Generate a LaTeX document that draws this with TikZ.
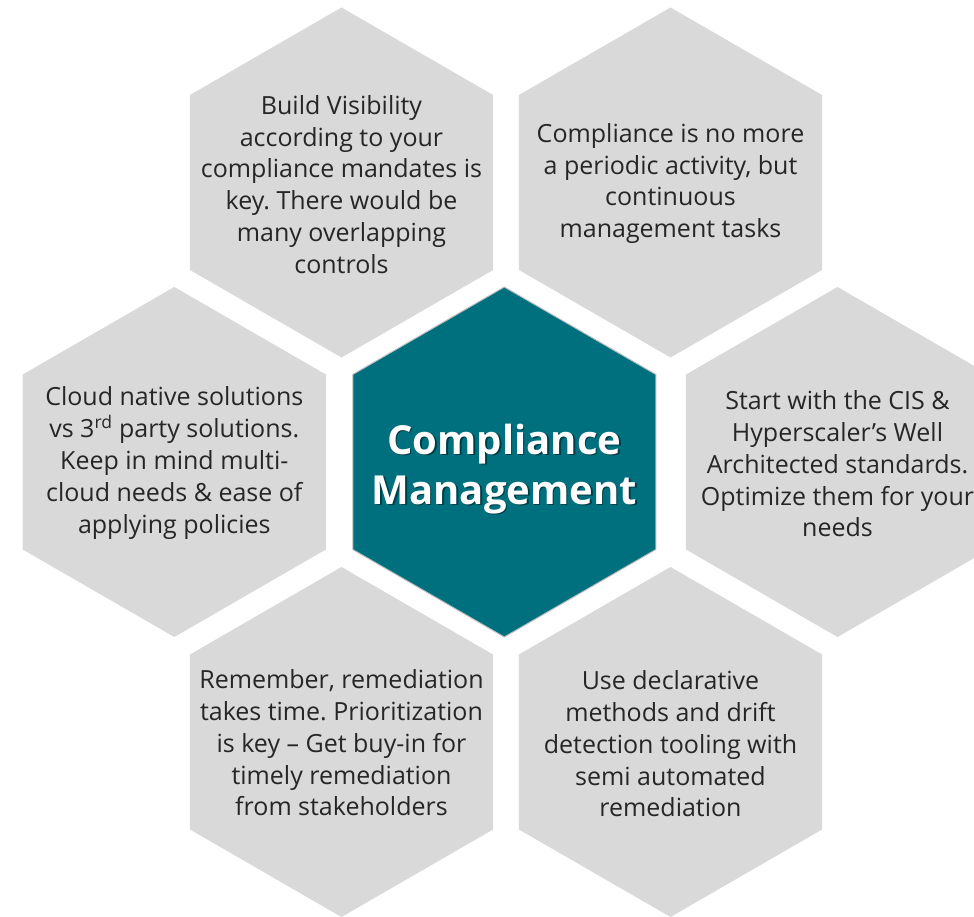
\documentclass[tikz,border=0pt]{standalone}
\usepackage{fontspec}
\setmainfont{Open Sans}
\usetikzlibrary{shapes.geometric}
\definecolor{hexgray}{HTML}{D9D9D9}
\definecolor{teal}{HTML}{00707F}
\definecolor{txt}{HTML}{262626}
\definecolor{rim}{HTML}{BFBFBF}
\tikzset{
  hexbox/.style={regular polygon, regular polygon sides=6, regular polygon rotate=30,
    minimum size=350pt, inner sep=0pt, outer sep=0pt, fill=hexgray, draw=none},
  hexcore/.style={hexbox, fill=teal, draw=rim, line width=1pt},
  hextext/.style={align=center, text=txt, font=\fontsize{25}{31.8}\selectfont\frenchspacing, inner sep=0pt},
  coretext/.style={align=center, text=white, font=\fontsize{40}{50}\selectfont\bfseries, inner sep=0pt},
  coreshadow/.style={coretext, text=black, opacity=0.45}
}
\begin{document}
\begin{tikzpicture}[x=1pt,y=1pt]
\useasboundingbox (0,0) rectangle (974,916);
\fill[white] (0,0) rectangle (974,916);
\node[hexbox] (tl) at (341.5,733.5) {};
\node[hexbox] (tr) at (670.5,733.5) {};
\node[hexbox] (l) at (174.3,454) {};
\node[hexcore] (c) at (504.3,454) {};
\node[hexbox] (r) at (837.5,454) {};
\node[hexbox] (bl) at (341.5,174) {};
\node[hexbox] (br) at (670.5,174) {};
\node[hextext] (tltext) at ([yshift=-2pt]tl.center) {Build Visibility\\according to your\\compliance mandates is\\key. There would be\\many overlapping\\controls};
\node[hextext] (trtext) at ([yshift=-1pt]tr.center) {Compliance is no more\\a periodic activity, but\\continuous\\management tasks};
\node[hextext] (ltext) at ([yshift=-1pt]l.center) {Cloud native solutions\\vs 3\textsuperscript{rd} party solutions.\\Keep in mind multi-\\cloud needs \& ease of\\applying policies};
\node[hextext] (rtext) at ([yshift=-2pt]r.center) {Start with the CIS \&\\Hyperscaler’s Well\\Architected standards.\\Optimize them for your\\needs};
\node[hextext] (bltext) at ([yshift=-1pt]bl.center) {Remember, remediation\\takes time. Prioritization\\is key – Get buy-in for\\timely remediation\\from stakeholders};
\node[hextext] (brtext) at ([yshift=-2pt]br.center) {Use declarative\\methods and drift\\detection tooling with\\semi automated\\remediation};
\node[coreshadow] (cshadow) at ([xshift=1.5pt,yshift=-8.5pt]c.center) {Compliance\\Management};
\node[coretext] (ctext) at ([yshift=-7pt]c.center) {Compliance\\Management};
\end{tikzpicture}
\end{document}
